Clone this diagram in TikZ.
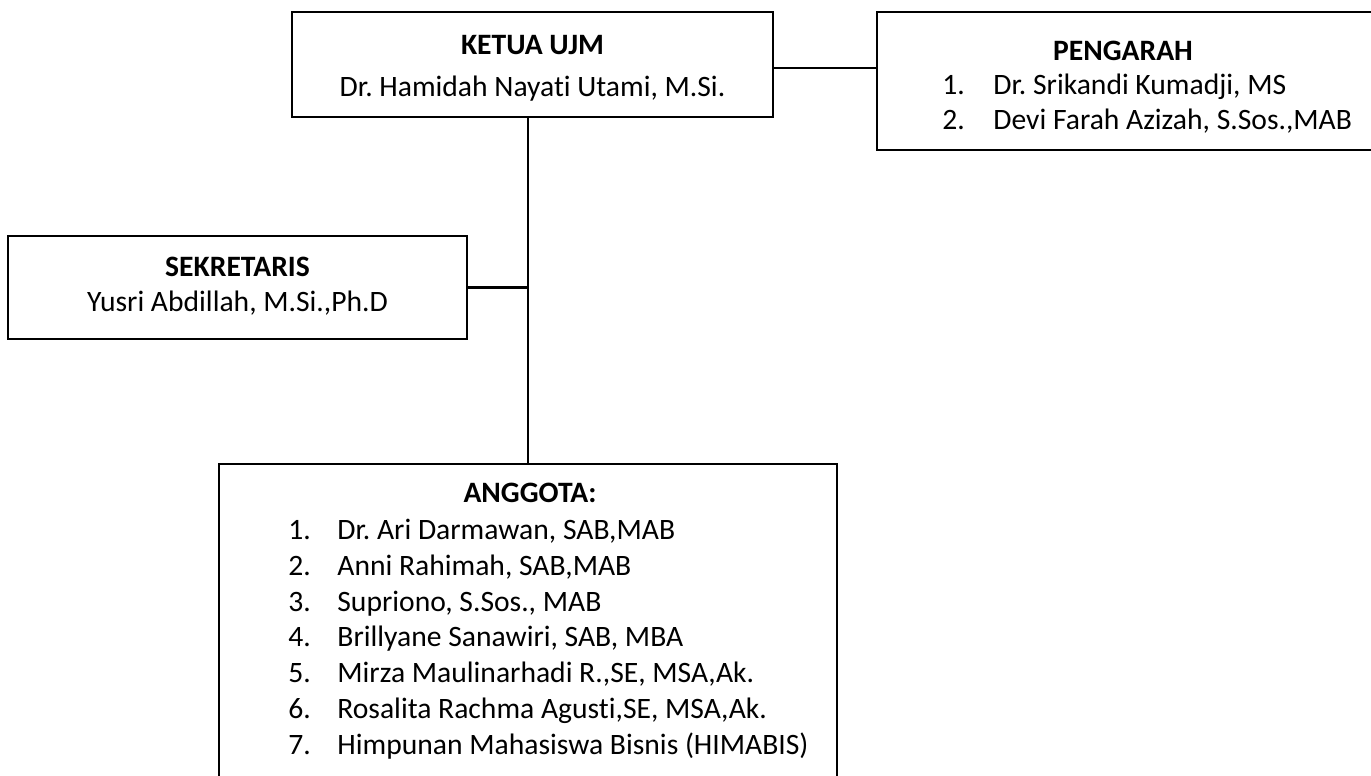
\documentclass[tikz,border=0pt]{standalone}
\usepackage{fontspec}
\setmainfont{Carlito}[Ligatures={NoCommon}]
\begin{document}
\frenchspacing
\begin{tikzpicture}[x=0.5pt,y=-0.5pt,
  box/.style={draw=black, line width=1.1pt, inner sep=0pt, fill=white},
  lbl/.style={inner sep=0pt, anchor=base},
  lblw/.style={inner sep=0pt, anchor=base west},
  conn/.style={draw=black, line width=1.1pt}]
\fill[white] (0,0) rectangle (1371,776);
\useasboundingbox (0,0) rectangle (1371,776);
\fontsize{14.8pt}{18pt}\selectfont
% boxes
\node[box, minimum width=240.5pt, minimum height=52.5pt] (ketua) at (532.5,64.5) {};
\node[box, minimum width=249pt, minimum height=69pt] (peng) at (1126,81) {};
\node[box, minimum width=229.5pt, minimum height=51.8pt] (sek) at (237.5,287.5) {};
\node[box, minimum width=309pt, minimum height=160pt] (ang) at (528,624) {};
% connectors
\coordinate (kp) at (0,67.7);
\draw[conn] (ketua.east |- kp) -- (peng.west |- kp);
\draw[conn] (ketua.south -| ang.north) -- (ang.north);
\draw[conn] (sek.east) -- (sek.east -| ang.north);
% KETUA
\node[lbl] (kt) at (532.5,54.5) {\bfseries KETUA UJM};
\node[lbl] (kn) at (532.5,96) {Dr. Hamidah Nayati Utami, M.Si.};
% PENGARAH
\node[lbl] (pt) at (1123,60) {\bfseries PENGARAH};
\node[lblw] (p1n) at (942,94.5) {1.};
\node[lblw] (p1) at (993,94.5) {Dr. Srikandi Kumadji, MS};
\node[lblw] (p2n) at (942,129.5) {2.};
\node[lblw] (p2) at (993,129.5) {Devi Farah Azizah, S.Sos.,MAB};
% SEKRETARIS
\node[lbl] (st) at (237.5,276) {\bfseries SEKRETARIS};
\node[lbl] (sn) at (237.5,311) {Yusri Abdillah, M.Si.,Ph.D};
% ANGGOTA
\node[lbl] (at) at (530,502) {\bfseries ANGGOTA:};
\node[lblw] (a1n) at (288,539) {1.};
\node[lblw] (a1) at (337,539) {Dr. Ari Darmawan, SAB,MAB};
\node[lblw] (a2n) at (288,575) {2.};
\node[lblw] (a2) at (337,575) {Anni Rahimah, SAB,MAB};
\node[lblw] (a3n) at (288,611) {3.};
\node[lblw] (a3) at (337,611) {Supriono, S.Sos., MAB};
\node[lblw] (a4n) at (288,646) {4.};
\node[lblw] (a4) at (337,646) {Brillyane Sanawiri, SAB, MBA};
\node[lblw] (a5n) at (288,682) {5.};
\node[lblw] (a5) at (337,682) {Mirza Maulinarhadi R.,SE, MSA,Ak.};
\node[lblw] (a6n) at (288,718) {6.};
\node[lblw] (a6) at (337,718) {Rosalita Rachma Agusti,SE, MSA,Ak.};
\node[lblw] (a7n) at (288,754) {7.};
\node[lblw] (a7) at (337,754) {Himpunan Mahasiswa Bisnis (HIMABIS)};
\end{tikzpicture}
\end{document}
